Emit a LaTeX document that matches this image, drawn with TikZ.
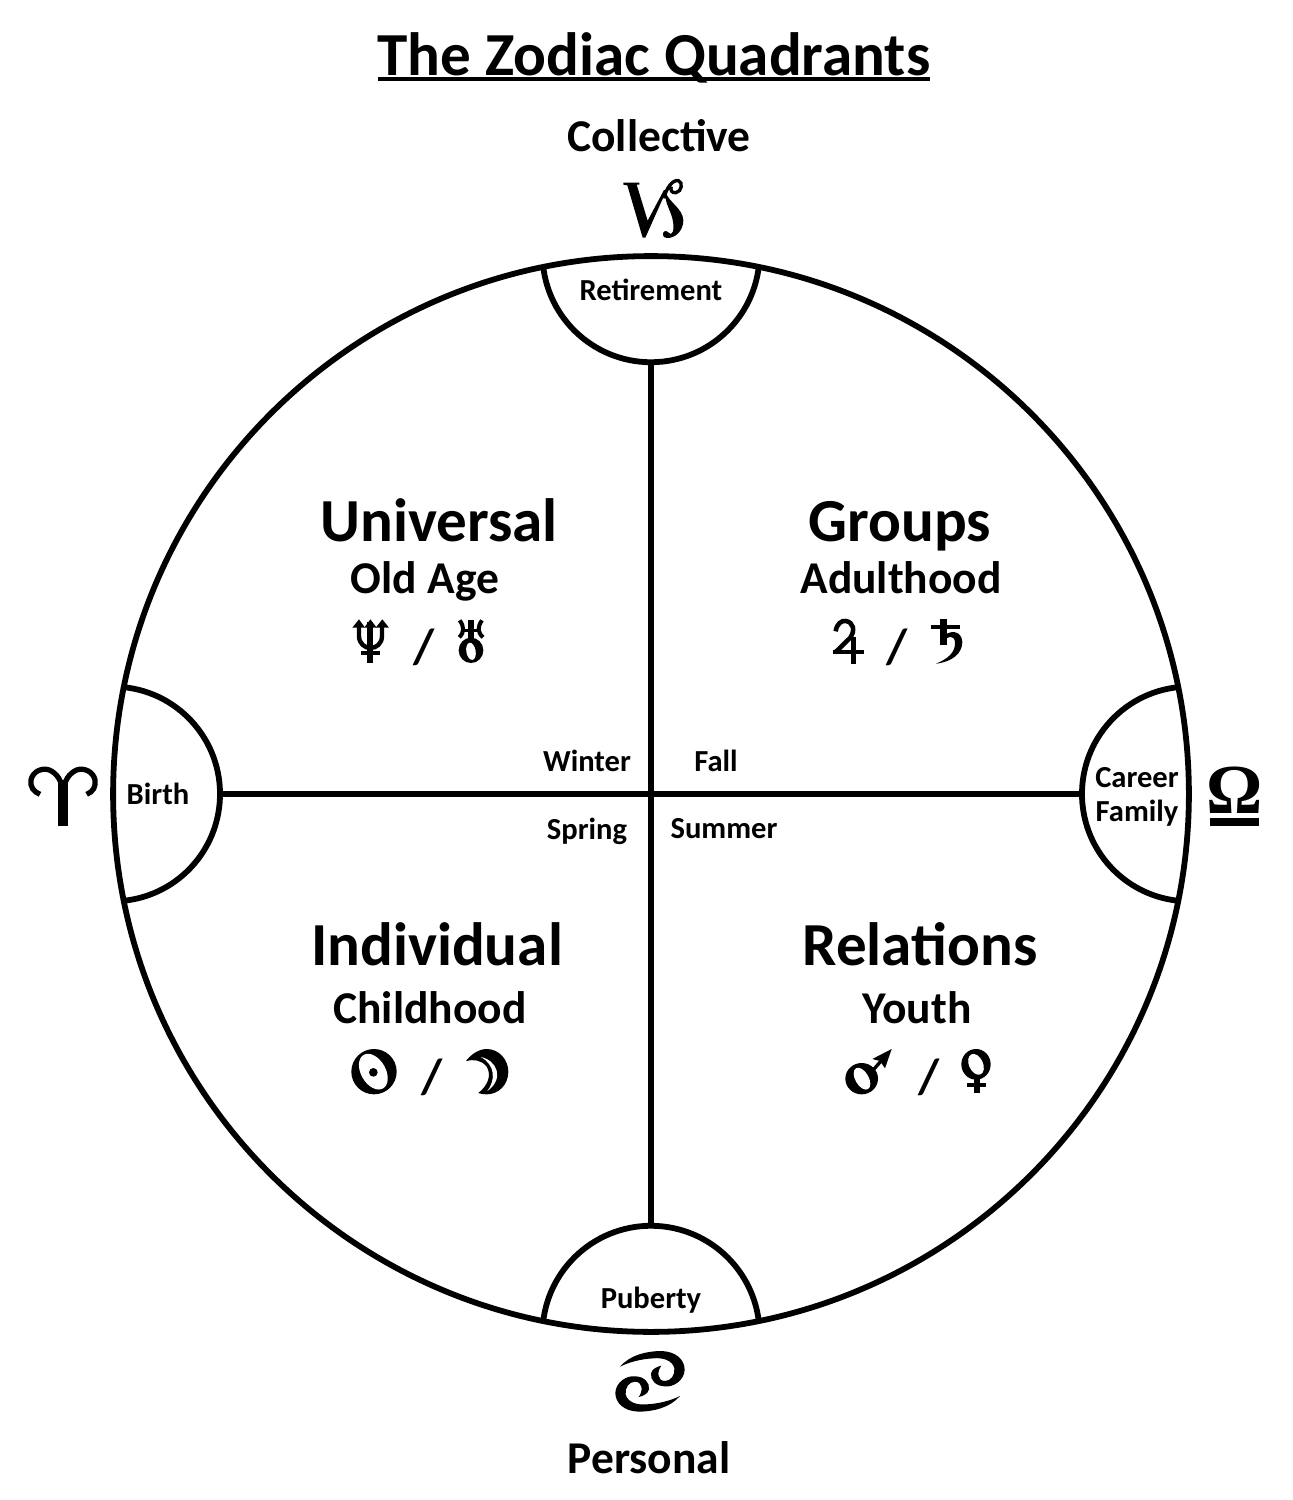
\documentclass[tikz,border=0pt]{standalone}
\usepackage{fontspec}
\setmainfont{Carlito}
\newfontfamily\omegafont{Liberation Serif}
\tikzset{
 x=0.02cm,y=-0.02cm,
 ln/.style={line width=3.3pt, draw=black, line join=round},
 lab/.style={font=\bfseries\fontsize{#1}{#1}\selectfont, inner sep=0pt, anchor=center, text=black},
 crop/.style 2 args={shift={(#1,#2)},x=0.00667cm,y=-0.00667cm},
}
\begin{document}
\begin{tikzpicture}
\useasboundingbox (0,0) rectangle (1293,1500);
\fill[white] (0,0) rectangle (1293,1500);
\coordinate (c) at (651,794);
\draw[ln] (c) circle[radius=10.76cm];
\coordinate (tl) at (543,265); \coordinate (bl) at (543,1323);
\coordinate (lt) at (122,687); \coordinate (rt) at (1180,687);
\coordinate (t) at (651,362); \coordinate (b) at (651,1226);
\coordinate (l) at (220,794); \coordinate (r) at (1082,794);
\draw[ln] (tl) arc[start angle=186,end angle=354,radius=2.172cm];
\draw[ln] (bl) arc[start angle=174,end angle=6,radius=2.172cm];
\draw[ln] (lt) arc[start angle=85,end angle=-85,radius=2.148cm];
\draw[ln] (rt) arc[start angle=95,end angle=265,radius=2.148cm];
\draw[ln] (t) -- (b);
\draw[ln] (l) -- (r);
\node[lab=34.8] (title) at (654,58) {The Zodiac Quadrants};
\coordinate (ul) at (378,79); \coordinate (ur) at (930,79);
\draw[line width=2.2pt] (ul) -- (ur);
\node[lab=25.9] (coll) at (659,136) {Collective};
\node[lab=25.9] (pers) at (649,1458) {Personal};
\node[lab=17.4] (ret) at (651,290) {Retirement};
\node[lab=17.4] (pub) at (651,1300) {Puberty};
\node[lab=17.4] (bir) at (158,794) {Birth};
\node[lab=17.4,font=\bfseries\fontsize{17.4}{19.3}\selectfont,align=center] (car) at (1137,797) {Career\\Family};
\node[lab=17.4] (win) at (587,761) {Winter};
\node[lab=17.4] (fal) at (716,761) {Fall};
\node[lab=17.4] (spr) at (587,831) {Spring};
\node[lab=17.4] (sum) at (724,829) {Summer};
\node[lab=34.8] (uni) at (439,520) {Universal};
\node[lab=25.9] (old) at (425,581) {Old Age};
\node[lab=34.8] (gro) at (900,526) {Groups};
\node[lab=25.9] (adu) at (901,578) {Adulthood};
\node[lab=34.8] (ind) at (437,944) {Individual};
\node[lab=25.9] (chi) at (430,1008) {Childhood};
\node[lab=34.8] (rel) at (920,944) {Relations};
\node[lab=25.9] (you) at (917,1008) {Youth};
\node[lab=28] (s1) at (424,647) {/};
\node[lab=28] (s2) at (897,647) {/};
\node[lab=28] (s3) at (432,1077) {/};
\node[lab=28] (s4) at (929,1077) {/};
% Libra
\node[font=\omegafont\bfseries\fontsize{40}{40}\selectfont,inner sep=0pt] (lib) at (1234.5,790.5) {Ω};
\fill (1210,818) rectangle (1259,826);
% Aries
\begin{scope}[crop={10}{680}]
\fill (143,300) -- (175,300) -- (175,437) -- (143,437) -- cycle;
\draw[line width=3pt] (90,343) .. controls (70,335) and (60,320) .. (63,300) .. controls (68,275) and (95,262) .. (118,270) .. controls (140,280) and (156,300) .. (159,340);
\draw[line width=3pt] (230,343) .. controls (250,335) and (258,320) .. (255,300) .. controls (250,275) and (222,262) .. (200,270) .. controls (178,280) and (162,300) .. (159,340);
\end{scope}
% Capricorn
\begin{scope}[crop={540}{170}]
\fill (250,38) -- (298,38) -- (298,44) -- (290,44) -- (323,152) -- (372,60) -- (379,62) -- (316,203) -- (308,203) -- (262,46) -- (250,44) -- cycle;
\draw[line width=1.9pt] (372,85) .. controls (378,55) and (398,28) .. (415,32) .. controls (430,37) and (425,65) .. (408,68) .. controls (395,70) and (390,60) .. (394,50);
\fill (378,68) .. controls (385,95) and (428,115) .. (430,150) .. controls (431,182) and (405,206) .. (380,204) .. controls (368,203) and (365,190) .. (373,184) .. controls (383,180) and (385,192) .. (393,192) .. controls (403,188) and (403,160) .. (393,132) .. controls (385,110) and (372,90) .. (378,68) -- cycle;
\end{scope}
% Cancer
\begin{scope}[crop={530}{1220}]
\def\cancerpart{(270,440) .. controls (300,405) and (350,393) .. (395,393) .. controls (440,395) and (464,420) .. (464,450) .. controls (462,482) and (430,502) .. (405,499) .. controls (378,499) and (360,480) .. (363,460) .. controls (366,447) and (380,440) .. (394,437) .. controls (380,455) and (382,483) .. (405,483) .. controls (422,483) and (436,465) .. (433,445) .. controls (428,422) and (400,412) .. (370,415) .. controls (335,417) and (300,425) .. (270,440) -- cycle}
\fill \cancerpart;
\fill[rotate around={180:(360,484)}] \cancerpart;
\end{scope}
% Neptune, Uranus
\begin{scope}[crop={345}{612}]
\fill (67,30) rectangle (85,152);
\fill (48,117) rectangle (105,130);
\draw[line width=2.5pt] (42,40) -- (42,72) .. controls (42,95) and (60,108) .. (76,108) .. controls (94,108) and (111,95) .. (111,72) -- (111,40);
\fill (22,47) -- (42,22) -- (60,47) -- cycle;
\fill (58,47) -- (76,22) -- (95,47) -- cycle;
\fill (92,47) -- (112,22) -- (132,47) -- cycle;
\fill (378,115) ellipse[x radius=37,y radius=38];
\fill[white,rotate around={10:(378,118)}] (378,118) ellipse[x radius=14,y radius=26];
\fill (370,25) rectangle (386,82);
\fill (350,50) rectangle (405,60);
\draw[line width=2.3pt] (344,25) .. controls (358,45) and (358,60) .. (343,76);
\draw[line width=2.3pt] (411,25) .. controls (397,45) and (397,60) .. (414,76);
\end{scope}
% Jupiter, Saturn
\begin{scope}[crop={825}{612}]
\fill (78,75) rectangle (94,155);
\fill (25,113) rectangle (117,127);
\draw[line width=2.6pt] (32,58) .. controls (35,35) and (50,25) .. (62,27) .. controls (85,30) and (92,55) .. (75,78) -- (30,122);
\fill (345,22) rectangle (365,100);
\fill (318,38) rectangle (406,50);
\fill (352,75) .. controls (375,52) and (410,55) .. (412,90) .. controls (412,125) and (380,150) .. (333,155) .. controls (370,140) and (392,120) .. (390,90) .. controls (388,70) and (370,70) .. (352,88) -- cycle;
\end{scope}
% Sun, Moon
\begin{scope}[crop={340}{1045}]
\fill (102,80) circle[x radius=68,y radius=68];
\fill[white,rotate around={30:(100,80)}] (100,80) ellipse[x radius=37,y radius=58];
\fill (100,82) circle[x radius=13,y radius=13];
\fill (378,48) .. controls (395,25) and (420,12) .. (440,12) .. controls (478,12) and (505,45) .. (505,80) .. controls (505,120) and (475,148) .. (440,148) .. controls (430,148) and (422,147) .. (415,144) .. controls (445,120) and (455,90) .. (440,65) .. controls (425,45) and (400,42) .. (378,48) -- cycle;
\fill[white] (422,36) .. controls (470,45) and (495,100) .. (442,138) .. controls (468,105) and (465,58) .. (422,36) -- cycle;
\end{scope}
% Mars, Venus
\begin{scope}[crop={835}{1045}]
\fill (80,101) circle[x radius=49,y radius=47];
\fill[white,rotate around={30:(81,101)}] (81,101) ellipse[x radius=20,y radius=36];
\draw[line width=1.9pt] (112,78) -- (145,40);
\fill (170,12) -- (112,42) -- (135,48) -- (150,70) -- cycle;
\fill (423,58) circle[x radius=44,y radius=46];
\fill[white,rotate around={25:(423,58)}] (423,58) ellipse[x radius=21,y radius=33];
\fill (417,100) rectangle (435,145);
\fill (395,115) rectangle (452,127);
\end{scope}
\end{tikzpicture}
\end{document}
